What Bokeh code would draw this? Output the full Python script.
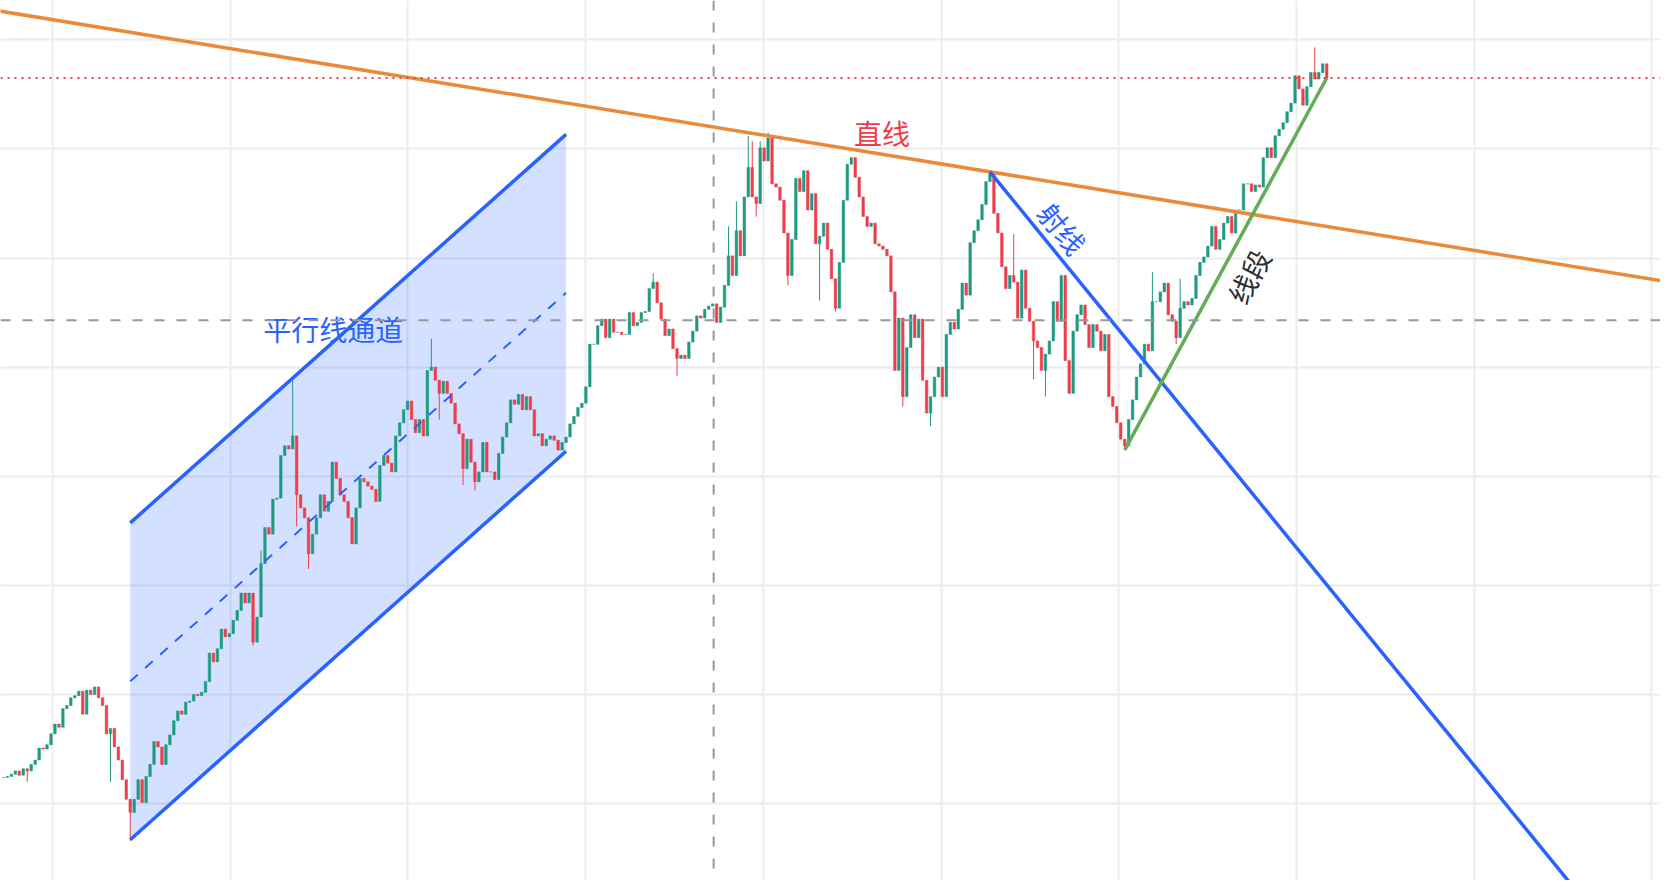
import numpy as np
from bokeh.plotting import figure
from bokeh.models import Span, FixedTicker, ColumnDataSource
from bokeh.embed import file_html
from bokeh.resources import INLINE
from bokeh.core.properties import value

# ---------------- data ----------------
closes = [
    124, 125, 127, 130, 126, 132, 130, 136, 140, 151,
    150, 154, 164, 173, 170, 187, 190, 197, 199, 203,
    182, 204, 200, 207, 197, 190, 164, 169, 152, 140,
    122, 104, 92, 104, 122, 101, 125, 136, 157, 152,
    136, 154, 163, 176, 185, 182, 193, 194, 200, 199,
    202, 212, 238, 230, 242, 260, 253, 256, 268, 277,
    293, 284, 293, 248, 271, 320, 353, 347, 379, 380,
    419, 428, 425, 437, 383, 371, 362, 329, 347, 362,
    383, 368, 377, 413, 398, 383, 377, 362, 338, 371,
    398, 395, 391, 388, 377, 410, 419, 412, 404, 437,
    449, 461, 469, 452, 440, 452, 437, 497, 500, 488,
    476, 487, 476, 467, 448, 439, 407, 434, 413, 395,
    404, 431, 404, 404, 397, 421, 436, 449, 470, 466,
    475, 461, 473, 461, 437, 439, 428, 434, 437, 433,
    424, 431, 436, 448, 455, 463, 467, 482, 521, 521,
    538, 544, 527, 544, 532, 532, 530, 530, 550, 538,
    541, 550, 551, 572, 578, 559, 544, 529, 535, 517,
    508, 511, 508, 523, 533, 547, 545, 553, 556, 558,
    541, 555, 575, 602, 584, 625, 602, 656, 683, 656,
    650, 701, 689, 710, 668, 665, 653, 623, 584, 617,
    673, 661, 680, 644, 659, 613, 620, 632, 608, 581,
    554, 596, 653, 686, 692, 674, 656, 638, 629, 632,
    613, 611, 608, 602, 569, 497, 545, 473, 518, 548,
    527, 544, 488, 458, 473, 491, 500, 473, 530, 541,
    535, 553, 577, 566, 614, 625, 635, 649, 670, 679,
    641, 623, 592, 572, 584, 578, 545, 589, 554, 542,
    524, 518, 497, 512, 524, 560, 542, 584, 506, 476,
    533, 548, 557, 539, 518, 539, 533, 515, 530, 473,
    464, 449, 434, 428, 452, 470, 491, 503, 521, 515,
    560, 560, 569, 577, 548, 542, 527, 554, 560, 557,
    563, 584, 596, 601, 611, 629, 608, 617, 632, 638,
    623, 644, 644, 668, 668, 661, 667, 665, 692, 701,
    692, 712, 718, 724, 734, 742, 767, 755, 740, 757,
    770, 764, 770, 778, 765,
]

wick_high_idx = [65, 73, 108, 164, 183, 185, 188, 189, 191, 193, 255, 290, 297, 331]
wick_high_val = [332, 491, 526, 586, 629, 652, 712, 707, 707, 715, 622, 587, 581, 793]
wick_low_idx = [6, 27, 32, 63, 65, 74, 77, 110, 116, 119, 170, 190, 198, 206, 210,
                227, 234, 260, 263, 283, 296]
wick_low_val = [120, 120, 66, 245, 305, 354, 315, 452, 392, 387, 492, 638, 575, 561, 551,
                464, 446, 489, 473, 424, 521]

price_grid = [100, 200, 300, 400, 500, 600, 700, 800]

# drawing anchors (candle index, price)
straight_line = [(193, 712), (249, 679)]
ray_line = [(249, 679), (300, 452)]
segment_line = [(283, 424), (334, 765)]
channel = [(32, 67), (142, 423), (73, 490)]
crosshair = (179.25, 543)

# ---------------- styles ----------------
GREEN = "#1f9a80"
RED = "#ec3f4b"
BLUE = "#2962ff"
ORANGE = "#e98a3a"
SEG_GREEN = "#62ad55"
CJK = value("Noto Sans CJK SC")

X_START, X_END = -0.75, 418.25
Y_START, Y_END = 29.6, 836.0

p = figure(width=1660, height=880, x_range=(X_START, X_END), y_range=(Y_START, Y_END),
           output_backend="svg", toolbar_location=None, title=None, min_border=0,
           background_fill_color="white", border_fill_color="white")
p.outline_line_color = None
p.xaxis.visible = False
p.yaxis.visible = False
p.xgrid.ticker = FixedTicker(ticks=[12.4 + 44.85 * k for k in range(10)])
p.ygrid.ticker = FixedTicker(ticks=price_grid)
for g in (p.xgrid, p.ygrid):
    g.grid_line_color = "#ececec"
    g.grid_line_width = 2

# ---------------- parallel channel ----------------
(c1x, c1y), (c2x, c2y), (c3x, c3y) = channel
cm = (c2y - c1y) / (c2x - c1x)
off = c3y - (c1y + cm * (c3x - c1x))
lower = [c1y, c2y]
upper = [c1y + off, c2y + off]
middle = [c1y + off / 2, c2y + off / 2]
p.patch([c1x, c2x, c2x, c1x], [lower[0], lower[1], upper[1], upper[0]],
        fill_color=BLUE, fill_alpha=0.2, line_color=None)

# ---------------- candles ----------------
cl = np.array(closes, dtype=float)
op = np.concatenate([[cl[0]], cl[:-1]])
hi = np.maximum(op, cl)
lo = np.minimum(op, cl)
for i, v in zip(wick_high_idx, wick_high_val):
    hi[i] = max(hi[i], v)
for i, v in zip(wick_low_idx, wick_low_val):
    lo[i] = min(lo[i], v)
colors = np.where(cl >= op, GREEN, RED)
src = ColumnDataSource(dict(x=np.arange(len(cl)), high=hi, low=lo,
                            top=np.maximum(op, cl), bottom=np.minimum(op, cl), color=colors))
p.segment(x0="x", y0="low", x1="x", y1="high", line_color="color", line_width=1, source=src)
p.vbar(x="x", width=0.65, top="top", bottom="bottom", fill_color="color",
       line_color="color", line_width=0.5, source=src)

# channel lines
p.line([c1x, c2x], upper, line_color=BLUE, line_width=3.5)
p.line([c1x, c2x], lower, line_color=BLUE, line_width=3.5)
p.line([c1x, c2x], middle, line_color=BLUE, line_width=2, line_dash="10 10")

# ---------------- straight line ----------------
(s1x, s1y), (s2x, s2y) = straight_line
sm = (s2y - s1y) / (s2x - s1x)
p.line([X_START - 5, X_END + 5], [s1y + sm * (X_START - 5 - s1x), s1y + sm * (X_END + 5 - s1x)],
       line_color=ORANGE, line_width=3.5)

# ---------------- ray ----------------
(r1x, r1y), (r2x, r2y) = ray_line
rm = (r2y - r1y) / (r2x - r1x)
p.line([r1x, X_END + 5], [r1y, r1y + rm * (X_END + 5 - r1x)], line_color=BLUE, line_width=3.5)

# ---------------- segment ----------------
(g1x, g1y), (g2x, g2y) = segment_line
p.line([g1x, g2x], [g1y, g2y], line_color=SEG_GREEN, line_width=3.5)

# ---------------- labels ----------------
mid_s = (s1x + s2x) / 2
p.text(x=[mid_s], y=[s1y + sm * (mid_s - s1x)], text=["直线"], text_font=CJK,
       text_font_size="28px", text_color=RED, text_align="center", text_baseline="middle",
       x_offset=3, y_offset=-21)
rx = r1x + 0.28 * (r2x - r1x)
p.text(x=[rx], y=[r1y + rm * (rx - r1x)], text=["射线"], text_font=CJK,
       text_font_size="28px", text_color=BLUE, text_align="center", text_baseline="middle",
       angle=-np.arctan(1.2386), x_offset=16, y_offset=-13)
p.text(x=[(g1x + g2x) / 2], y=[(g1y + g2y) / 2], text=["线段"], text_font=CJK,
       text_font_size="28px", text_color="#2a2e39", text_align="center", text_baseline="middle",
       angle=np.arctan2(378.9, 204), x_offset=23, y_offset=12)
p.text(x=[(c1x + c2x) / 2], y=[(upper[0] + upper[1]) / 2], text=["平行线通道"], text_font=CJK,
       text_font_size="28px", text_color=BLUE, text_align="center", text_baseline="middle",
       x_offset=-15, y_offset=0)

# ---------------- crosshair & last price ----------------
p.add_layout(Span(location=crosshair[0], dimension="height", line_color="#9598a1",
                  line_width=2, line_dash="10 12"))
p.add_layout(Span(location=crosshair[1], dimension="width", line_color="#9598a1",
                  line_width=2, line_dash="10 12"))
p.add_layout(Span(location=closes[-1], dimension="width", line_color=RED,
                  line_width=2, line_dash="2 5"))

open("out.html", "w").write(file_html(p, INLINE))
